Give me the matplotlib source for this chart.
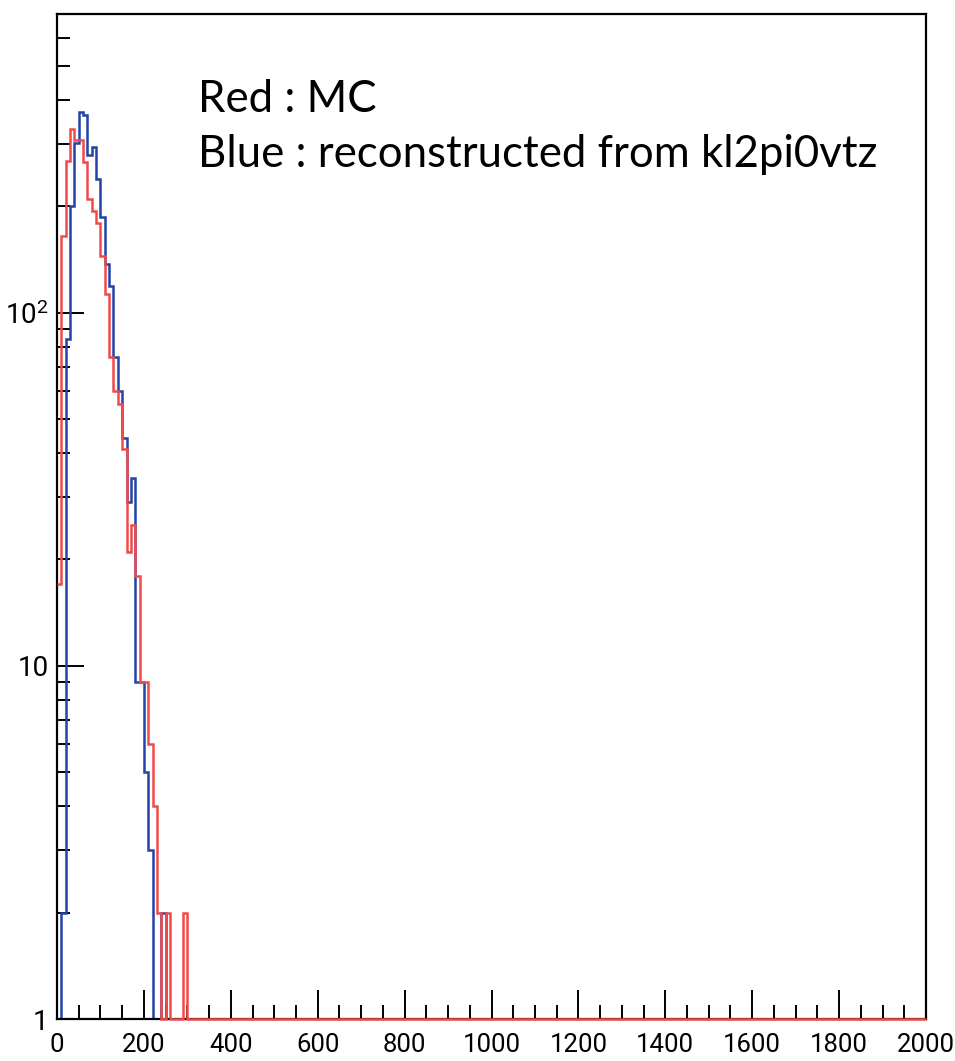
import numpy as np
import matplotlib
matplotlib.use('Agg')
import matplotlib.pyplot as plt
from matplotlib.ticker import MultipleLocator, LogLocator, FixedLocator, FixedFormatter, NullFormatter

# bin layout: 200 bins of width 10 between 0 and 2000
edges = np.arange(0, 2001, 10)

# counts, first bins only (rest of the range is empty)
blue_counts = [0, 2, 84, 200, 301, 369, 363, 280, 294, 239,
               186, 137, 119, 75, 60, 44, 29, 34, 9, 9,
               5, 3, 0, 0, 2]
red_counts = [17, 165, 269, 331, 308, 308, 266, 210, 194, 179,
              145, 113, 75, 60, 55, 41, 21, 25, 18, 9,
              9, 6, 4, 2, 0, 2, 0, 0, 0, 2]

ytick_vals = [1, 10, 100]
ytick_labels = ['1', '10', r'$\mathregular{10^{2}}$']


def full_hist(counts, nbins):
    h = np.zeros(nbins)
    h[:len(counts)] = counts
    # empty bins are drawn on the lower edge of the log axis, like ROOT does
    h[h < 1] = 1
    return h


nb = len(edges) - 1
blue = full_hist(blue_counts, nb)
red = full_hist(red_counts, nb)

plt.rcParams['font.family'] = ['Roboto', 'DejaVu Sans']
plt.rcParams['mathtext.fontset'] = 'custom'
plt.rcParams['mathtext.rm'] = 'Roboto'

fig = plt.figure(figsize=(9.55, 10.61), dpi=100)
ax = fig.add_axes([57 / 955, 42 / 1061, 869 / 955, 1005 / 1061])

ax.stairs(blue, edges, baseline=None, color='#2343a8', lw=1.8, zorder=2)
ax.stairs(red, edges, baseline=None, color='#f04a4a', lw=1.8, zorder=3, clip_on=False)

ax.set_yscale('log')
ax.set_xlim(0, 2000)
ax.set_ylim(1, 700)

ax.xaxis.set_major_locator(MultipleLocator(200))
ax.xaxis.set_minor_locator(MultipleLocator(50))
ax.yaxis.set_major_locator(FixedLocator(ytick_vals))
ax.yaxis.set_major_formatter(FixedFormatter(ytick_labels))
ax.yaxis.set_minor_locator(LogLocator(base=10, subs=np.arange(2, 10)))
ax.yaxis.set_minor_formatter(NullFormatter())

ax.tick_params(axis='both', which='both', direction='in', top=False, right=False,
               width=1.4, color='black')
ax.tick_params(axis='x', which='major', length=21, pad=10, labelsize=18.5)
ax.tick_params(axis='x', which='minor', length=10)
ax.tick_params(axis='y', which='major', length=19.5, pad=6, labelsize=20)
ax.tick_params(axis='y', which='minor', length=9.5)

for s in ax.spines.values():
    s.set_linewidth(1.6)
    s.set_zorder(2.5)

fig.text(198 / 955, 1 - 111.7 / 1061, 'Red : MC', family=['Lato', 'DejaVu Sans'],
         fontsize=31.5, va='baseline', ha='left')
fig.text(198 / 955, 1 - 167 / 1061, 'Blue : reconstructed from kl2pi0vtz',
         family=['Lato', 'DejaVu Sans'], fontsize=31.5, va='baseline', ha='left')

fig.savefig('out.png', dpi=100)
